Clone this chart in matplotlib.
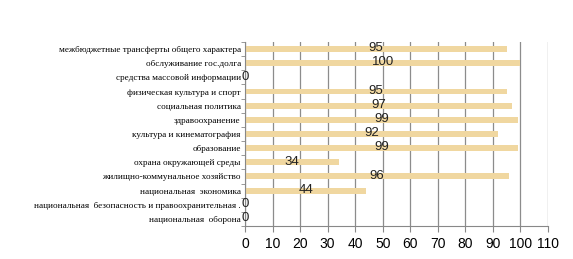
import numpy as np
import matplotlib.pyplot as plt

categories = [
    "межбюджетные трансферты общего характера",
    "обслуживание гос.долга",
    "средства массовой информации",
    "физическая культура и спорт",
    "социальная политика",
    "здравоохранение",
    "культура и кинематография",
    "образование",
    "охрана окружающей среды",
    "жилищно-коммунальное хозяйство",
    "национальная  экономика",
    "национальная  безопасность и правоохранительная .",
    "национальная  оборона",
]
values = [95, 100, 0, 95, 97, 99, 92, 99, 34, 96, 44, 0, 0]
xticks = list(range(0, 111, 10))

fig = plt.figure(figsize=(5.73, 2.59), dpi=100)
ax = fig.add_axes([0.4276, 0.1274, 0.5288, 0.7106])

n = len(categories)
ypos = np.arange(n)[::-1]
ax.barh(ypos, values, height=0.42, color="#F0D7A0", zorder=2)

for y, v in zip(ypos, values):
    ax.text(v / 2, y + 0.05, str(v), ha="center", va="center",
            fontsize=9.5, family="Liberation Sans", color="#222222", zorder=3)

ax.set_xlim(0, 110)
ax.set_ylim(-0.5, n - 0.5)
ax.set_xticks(xticks)
ax.set_xticklabels([str(t) for t in xticks], fontsize=10, family="Liberation Sans")
ax.grid(axis="x", color="#8c8c8c", linewidth=0.9, zorder=1)

ax.set_yticks(ypos)
ax.set_yticklabels(categories, fontsize=6.6, family="Liberation Serif")
ax.set_yticks(np.arange(-0.5, n, 1), minor=True)
ax.tick_params(axis="y", which="major", length=0, pad=3)
ax.tick_params(axis="y", which="minor", length=3, color="#888888")
ax.tick_params(axis="x", length=4, color="#888888", pad=4)

for s in ["top", "right"]:
    ax.spines[s].set_visible(False)
ax.spines["left"].set_color("#888888")
ax.spines["bottom"].set_color("#888888")

fig.savefig("out.png", dpi=100)
